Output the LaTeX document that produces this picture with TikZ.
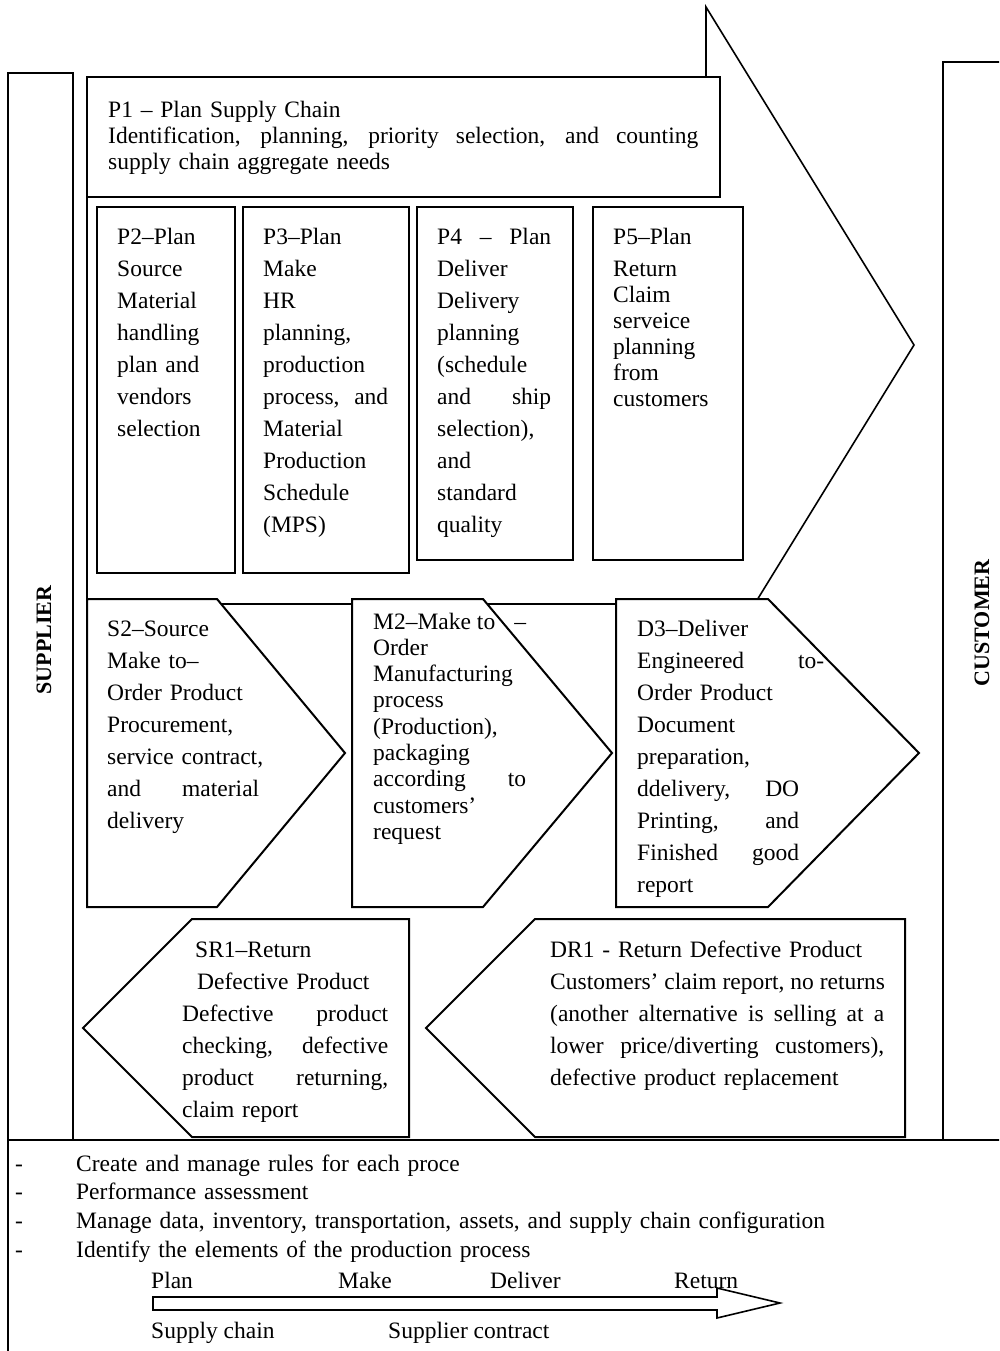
\documentclass[tikz,border=0pt]{standalone}
\usepackage{fontspec}
\setmainfont{Liberation Serif}
\tikzset{
  box/.style={draw, line width=2pt, fill=white, line join=miter},
  colline/.style={draw, line width=2pt},
  bigarrow/.style={draw, line width=1.6pt, fill=white},
  txt/.style={anchor=base west, inner sep=0pt, align=left, font=\fontsize{23.5}{32}\selectfont},
  tighttxt/.style={txt, font=\fontsize{23.5}{26.3}\selectfont},
  bottxt/.style={anchor=base west, inner sep=0pt, align=left, font=\fontsize{23.5}{28.7}\selectfont},
  sidelabel/.style={inner sep=0pt, rotate=90, font=\fontsize{22}{24}\selectfont\bfseries},
}
\newcommand\jl[2]{\leavevmode\hbox to #1{\spaceskip=.25em plus 1fil\xspaceskip=.25em plus 1fil\relax #2}}
\begin{document}
\begin{tikzpicture}[x=1pt, y=-1pt]
\clip (0,0) rectangle (999,1351);
\fill[white] (0,0) rectangle (999,1351);

% side columns
\draw[colline] (8,1140) -- (8,73) -- (73,73) -- (73,1140);
\draw[colline] (943,1140) -- (943,62) -- (1010,62);
\node[sidelabel] (supplier) at (44,640) {SUPPLIER};
\node[sidelabel] (customer) at (982,623) {CUSTOMER};

% big process arrow
\draw[bigarrow] (87,77) -- (706,77) -- (706,7) -- (914,345) -- (706,683) -- (706,604) -- (87,604) -- cycle;

% plan boxes
\draw[box] (87,77) rectangle (720,197);
\draw[box] (97,207) rectangle (235,573);
\draw[box] (243,207) rectangle (409,573);
\draw[box] (417,207) rectangle (573,560);
\draw[box] (593,207) rectangle (743,560);

% execution chevrons
\draw[box] (87,599) -- (217,599) -- (345,753) -- (217,907) -- (87,907) -- cycle;
\draw[box] (352,599) -- (483,599) -- (612,753) -- (483,907) -- (352,907) -- cycle;
\draw[box] (616,599) -- (768,599) -- (919,753) -- (768,907) -- (616,907) -- cycle;

% return chevrons
\draw[box] (409,919) -- (192,919) -- (83,1028) -- (192,1137) -- (409,1137) -- cycle;
\draw[box] (905,919) -- (535,919) -- (426,1028) -- (535,1137) -- (905,1137) -- cycle;

% bottom box
\draw[box] (8,1140) rectangle (1010,1370);

% texts
\node[txt, font=\fontsize{23.5}{26}\selectfont, text width=600pt] (p1) at (108,118)
  {P1 – Plan Supply Chain\\ \jl{590pt}{Identification, planning, priority selection, and counting}\\ supply chain aggregate needs};

\node[txt, text width=115pt] (p2) at (117,244)
  {P2–Plan\\Source\\Material\\handling\\plan and\\vendors\\selection};

\node[txt, text width=130pt] (p3) at (263,244)
  {P3–Plan\\Make\\HR\\planning,\\production\\\jl{125pt}{process, and}\\Material\\Production\\Schedule\\(MPS)};

\node[txt, text width=120pt] (p4) at (437,244)
  {\jl{114pt}{P4 – Plan}\\Deliver\\Delivery\\planning\\(schedule\\\jl{114pt}{and ship}\\selection),\\and\\standard\\quality};

\node[txt, text width=125pt] (p5) at (613,244)
  {P5–Plan\\Return\\[-6pt]Claim\\[-6pt]serveice\\[-6pt]planning\\[-6pt]from\\[-6pt]customers};

\node[txt, text width=165pt] (s2) at (107,636)
  {S2–Source\\Make to–\\Order Product\\Procurement,\\service contract,\\\jl{152pt}{and material}\\delivery};

\node[tighttxt, text width=160pt] (m2) at (373,629)
  {\jl{153pt}{M2–Make to\hfill –}\\Order\\Manufacturing\\process\\(Production),\\packaging\\\jl{153pt}{according to}\\customers’\\request};

\node[txt, text width=190pt] (d3) at (637,636)
  {D3–Deliver\\\jl{187pt}{Engineered to-}\\Order Product\\Document\\preparation,\\\jl{162pt}{ddelivery, DO}\\\jl{162pt}{Printing, and}\\\jl{162pt}{Finished good}\\report};

\node[txt, text width=215pt] (sr1) at (182,957)
  {\hspace*{13pt}SR1–Return\\\hspace*{15pt}Defective Product\\\jl{206pt}{Defective product}\\\jl{206pt}{checking, defective}\\\jl{206pt}{product returning,}\\claim report};

\node[txt, text width=340pt] (dr1) at (550,957)
  {DR1 - Return Defective Product\\\jl{334pt}{Customers’ claim report, no returns}\\\jl{334pt}{(another alternative is selling at a}\\\jl{334pt}{lower price/diverting customers),}\\defective product replacement};

\node[bottxt, text width=940pt] (rules) at (15,1171)
  {\makebox[61pt][l]{-}Create and manage rules for each proce\\
   \makebox[61pt][l]{-}Performance assessment\\
   \makebox[61pt][l]{-}Manage data, inventory, transportation, assets, and supply chain configuration\\
   \makebox[61pt][l]{-}Identify the elements of the production process};

\node[bottxt] (plan) at (151,1288) {Plan};
\node[bottxt] (make) at (338,1288) {Make};
\node[bottxt] (deliver) at (490,1288) {Deliver};
\node[bottxt] (return) at (674,1288) {Return};
\node[bottxt] (sc) at (151,1338) {Supply chain};
\node[bottxt] (scontract) at (388,1338) {Supplier contract};

\draw[line width=1.6pt, line join=miter] (153,1297) -- (717,1297) -- (717,1288) -- (780,1303) -- (717,1318) -- (717,1310) -- (153,1310) -- cycle;
\end{tikzpicture}
\end{document}
